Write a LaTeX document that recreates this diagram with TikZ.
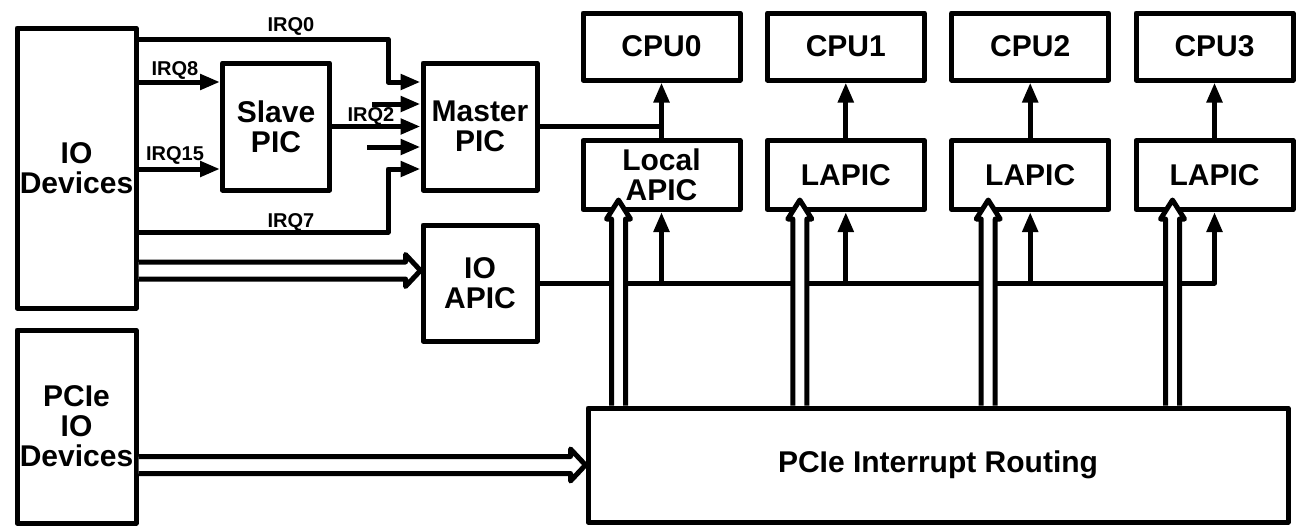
\documentclass[tikz,border=0pt]{standalone}
\usepackage{fontspec}
\setmainfont{Liberation Sans}
\usetikzlibrary{arrows.meta,calc}

\begin{document}
\begin{tikzpicture}[x=1pt,y=-1pt,line width=5pt,line join=round,
	box/.style={rectangle,draw=black,inner sep=0pt,align=center,
		font=\fontsize{30}{30}\selectfont\bfseries},
	cpubox/.style={box,minimum width=157pt,minimum height=67pt},
	apicbox/.style={box,minimum width=157pt,minimum height=69pt},
	lbl/.style={inner sep=0pt,font=\fontsize{20}{20}\selectfont\bfseries},
	sig/.style={-{Triangle[length=20pt,width=15pt]}},
	fat/.style n args={3}{fill=white,to path={
		($(\tikztotarget)!#3!(\tikztostart)$) coordinate (fq)
		($(\tikztostart)!#1!90:(\tikztotarget)$)
		-- ($(fq)!#1!-90:(\tikztostart)$) -- ($(fq)!#2!-90:(\tikztostart)$)
		-- (\tikztotarget)
		-- ($(fq)!#2!90:(\tikztostart)$) -- ($(fq)!#1!90:(\tikztostart)$)
		-- ($(\tikztostart)!#1!-90:(\tikztotarget)$)}},
	hfat/.style={fat={8.5pt}{16pt}{15pt}},
	vfat/.style={fat={7pt}{12pt}{19pt}}]
	\useasboundingbox (0,0) rectangle (1308,530);
	% boxes
	\node[box,minimum width=119pt,minimum height=280pt] (dev) at (76.5,168) {IO\\Devices};
	\node[box,minimum width=119pt,minimum height=193pt] (pcie) at (76.5,426.5) {PCIe\\IO\\Devices};
	\node[box,minimum width=107pt,minimum height=127pt] (slave) at (276,126.5) {Slave\\PIC};
	\node[box,minimum width=114pt,minimum height=127pt] (master) at (480,126.5) {Master\\PIC};
	\node[box,minimum width=114pt,minimum height=116pt] (ioapic) at (480,283) {IO\\APIC};
	\node[cpubox] (cpu0) at (661.5,46.5) {CPU0};
	\node[cpubox] (cpu1) at (845.8,46.5) {CPU1};
	\node[cpubox] (cpu2) at (1030.2,46.5) {CPU2};
	\node[cpubox] (cpu3) at (1214.5,46.5) {CPU3};
	\node[apicbox] (lapic0) at (661.5,175) {Local\\APIC};
	\node[apicbox] (lapic1) at (845.8,175) {LAPIC};
	\node[apicbox] (lapic2) at (1030.2,175) {LAPIC};
	\node[apicbox] (lapic3) at (1214.5,175) {LAPIC};
	\node[box,minimum width=700pt,minimum height=114pt] (routing) at (938,465) {PCIe Interrupt Routing};
	% irq labels
	\node[lbl] (irq0) at (291,26) {IRQ0};
	\node[lbl] (irq8) at (175,70) {IRQ8};
	\node[lbl] (irq15) at (175,155.5) {IRQ15};
	\node[lbl] (irq2) at (371,116.5) {IRQ2};
	\node[lbl] (irq7) at (291,222.5) {IRQ7};
	% rows and turns
	\coordinate (q0) at (388,39);
	\coordinate (q7) at (388,232);
	\coordinate (q8) at (0,82);
	\coordinate (q15) at (0,169);
	\coordinate (m0) at (0,82);
	\coordinate (m4) at (0,169);
	\coordinate (s1) at (372,104);
	\coordinate (s3) at (367,147);
	% legacy pic
	\draw[sig] (dev.east |- q0) -| (q0 |- m0) -- (master.west |- m0);
	\draw[sig] (dev.east |- q8) -- (slave.west |- q8);
	\draw[sig] (dev.east |- q15) -- (slave.west |- q15);
	\draw[sig] (slave) -- (master);
	\draw[sig] (s1) -- (master.west |- s1);
	\draw[sig] (s3) -- (master.west |- s3);
	\draw[sig] (dev.east |- q7) -| (q7 |- m4) -- (master.west |- m4);
	\draw (master) -- (master -| lapic0);
	% lapic to cpu
	\draw[sig] (lapic0) -- (cpu0);
	\draw[sig] (lapic1) -- (cpu1);
	\draw[sig] (lapic2) -- (cpu2);
	\draw[sig] (lapic3) -- (cpu3);
	% io apic bus
	\draw[sig] (ioapic) -| (lapic3);
	\draw[sig] (ioapic -| lapic0) -- (lapic0);
	\draw[sig] (ioapic -| lapic1) -- (lapic1);
	\draw[sig] (ioapic -| lapic2) -- (lapic2);
	% pcie routing
	\coordinate (u0) at ($(routing.north -| lapic0)+(-43,0)$);
	\coordinate (v0) at ($(lapic0.south)+(-43,-12)$);
	\coordinate (u1) at ($(routing.north -| lapic1)+(-46,0)$);
	\coordinate (v1) at ($(lapic1.south)+(-46,-12)$);
	\coordinate (u2) at ($(routing.north -| lapic2)+(-42,0)$);
	\coordinate (v2) at ($(lapic2.south)+(-42,-12)$);
	\coordinate (u3) at ($(routing.north -| lapic3)+(-42,0)$);
	\coordinate (v3) at ($(lapic3.south)+(-42,-12)$);
	\coordinate (h0) at (dev.east |- 0,270.5);
	\coordinate (h1) at (ioapic.west |- 0,270.5);
	\coordinate (h2) at (pcie.east |- routing.west);
	\coordinate (h3) at (routing.west);
	\draw[vfat] (u0) to (v0);
	\draw[vfat] (u1) to (v1);
	\draw[vfat] (u2) to (v2);
	\draw[vfat] (u3) to (v3);
	\draw[hfat] (h0) to (h1);
	\draw[hfat] (h2) to (h3);
\end{tikzpicture}
\end{document}
